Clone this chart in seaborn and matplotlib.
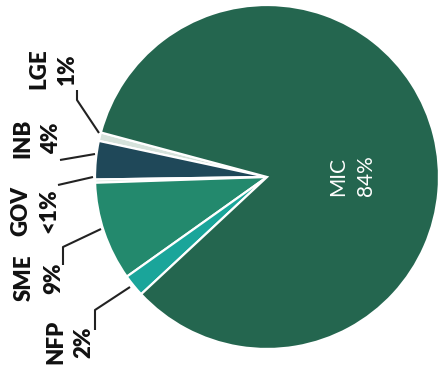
import matplotlib
matplotlib.use("Agg")
import matplotlib.pyplot as plt
import seaborn as sns

# ---- data (counter-clockwise order, starting at the upper-left) ----
categories = ["LGE", "INB", "GOV", "SME", "NFP", "MIC"]
shares = [0.8, 3.6, 0.3, 9.3, 2.1, 83.9]          # estimated slice sizes
pct_labels = ["1%", "4%", "<1%", "9%", "2%", "84%"]
colors = ["#d5e2db", "#1f4859", "#d5e4dd", "#23896d", "#1aa59a", "#24664f"]

sns.set_theme(style="white")
plt.rcParams["font.family"] = ["Lato", "DejaVu Sans"]

W, H = 443, 366
fig = plt.figure(figsize=(W / 100, H / 100), dpi=100)
ax = fig.add_axes([0, 0, 1, 1])

def Y(y_img):
    return H - y_img

cx, cy, r = 267, Y(177), 172
ax.pie(shares, colors=colors, startangle=165, counterclock=True,
       center=(cx, cy), radius=r,
       wedgeprops=dict(edgecolor="white", linewidth=1.6))

ax.set_xlim(0, W)
ax.set_ylim(0, H)
ax.set_aspect("equal")
ax.axis("off")

# label layout (image coordinates)
label_pos = {"LGE": (53, 69), "INB": (37, 138), "GOV": (35, 211),
             "SME": (39, 278), "NFP": (70, 342)}
leaders = {"LGE": [(77, 90), (77, 100), (99, 133)],
           "INB": [(60, 160), (95, 154)],
           "GOV": [(58, 185), (93, 177)],
           "SME": [(63, 265), (63, 247), (101, 229)],
           "NFP": [(95, 330), (95, 310), (130, 287)]}

for cat, pct in zip(categories, pct_labels):
    if cat == "MIC":
        ax.text(352, Y(176), f"{cat}\n{pct}", rotation=90, ha="center",
                va="center", multialignment="center", fontsize=15,
                color="white", linespacing=1.5)
        continue
    x, y = label_pos[cat]
    ax.text(x, Y(y), f"{cat}\n{pct}", rotation=90, ha="center", va="center",
            multialignment="center", fontsize=16, fontweight="heavy",
            color="#111111", linespacing=1.45)
    pts = leaders[cat]
    ax.plot([p[0] for p in pts], [Y(p[1]) for p in pts], color="#222222",
            lw=1.5, solid_capstyle="butt")

fig.savefig("out.png", dpi=100, facecolor="white")
